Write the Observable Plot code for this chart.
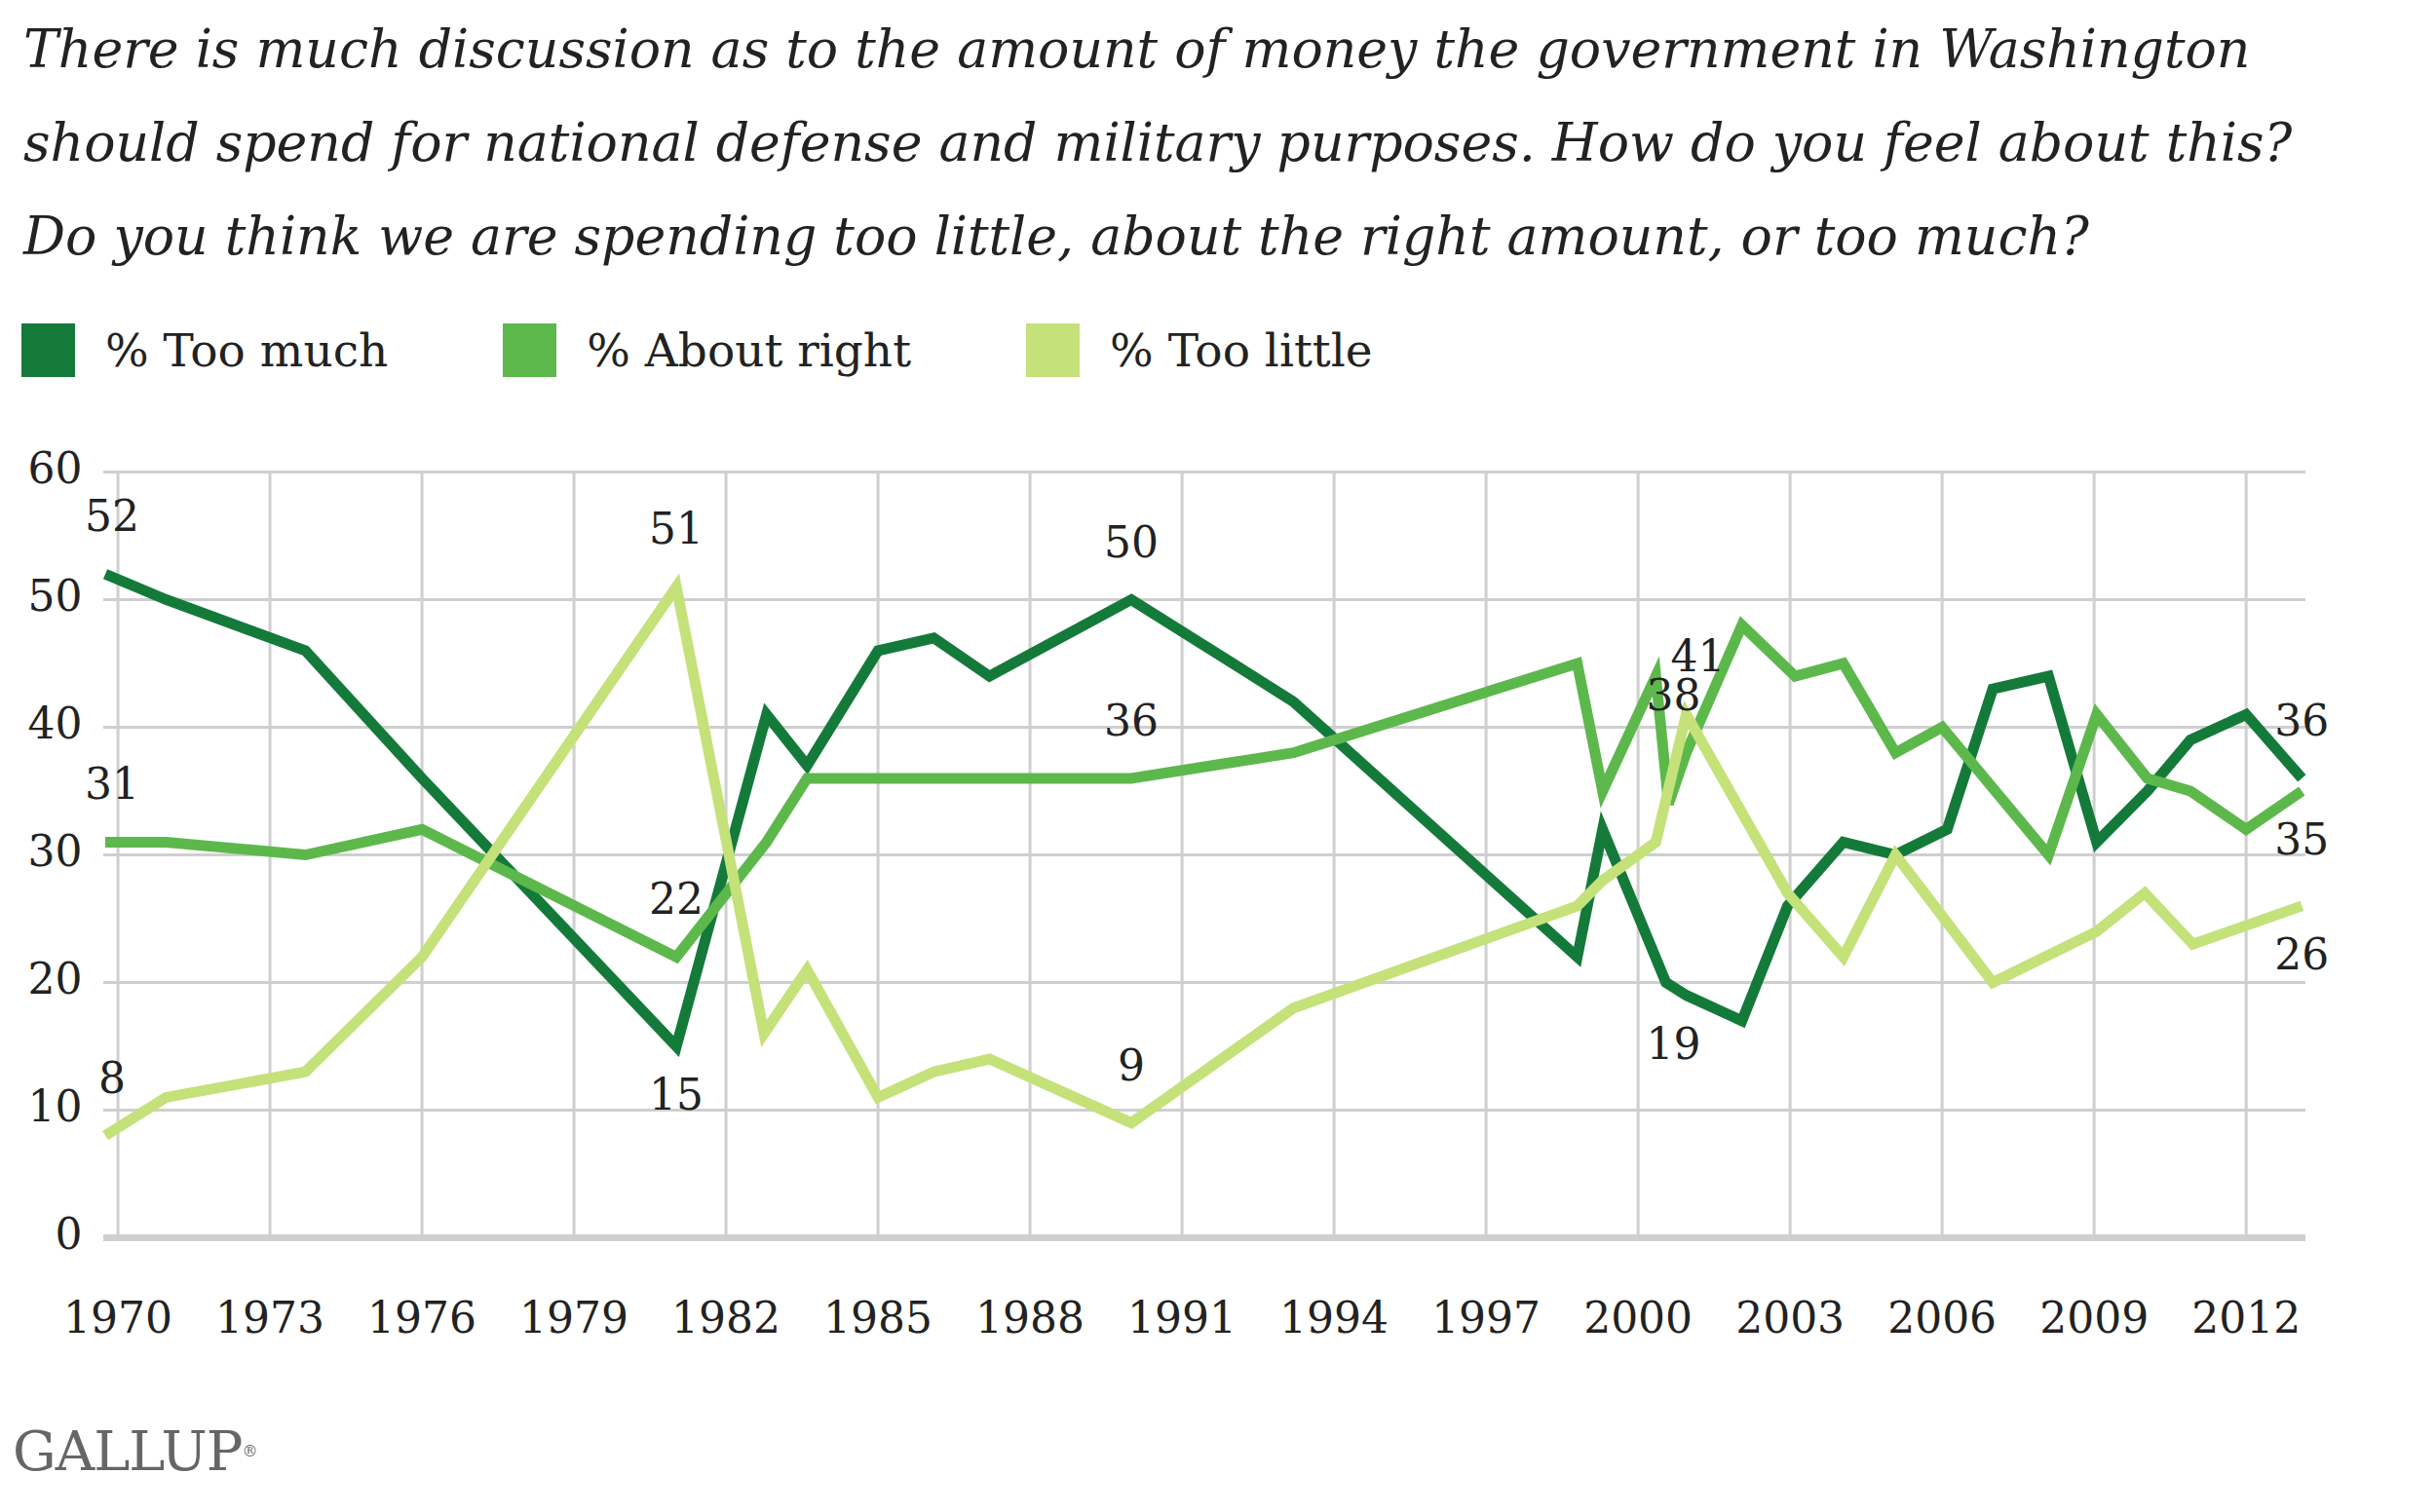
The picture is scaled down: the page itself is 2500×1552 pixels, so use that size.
<!DOCTYPE html>
<html>
<head>
<meta charset="utf-8">
<script src="https://cdn.jsdelivr.net/npm/d3@7"></script>
<script src="https://cdn.jsdelivr.net/npm/@observablehq/plot@0.6"></script>
<style>
  html, body { margin: 0; padding: 0; background: #ffffff; }
  body { width: 2500px; height: 1552px; position: relative; overflow: hidden; font-family: "DejaVu Serif", serif; color: #222; }
  #title { position: absolute; left: 24px; top: 3px; font-style: italic; line-height: 96px; white-space: nowrap; color: #222; }
  #legend { position: absolute; left: 22px; top: 332px; height: 55px; display: flex; align-items: center; }
  .item { display: flex; align-items: center; margin-right: 118px; }
  .sw { width: 55px; height: 55px; margin-right: 31px; }
  .lab { font-size: 47px; line-height: 55px; color: #222; white-space: nowrap; }
  #chart { position: absolute; left: 0; top: 400px; }
  #footer { position: absolute; left: 13px; top: 1462px; font-size: 56px; color: #666; letter-spacing: -1px; line-height: 56px; }
  #footer sup { font-size: 16px; vertical-align: top; }
</style>
</head>
<body>
<div id="title"></div>
<div id="legend"></div>
<div id="chart"></div>
<div id="footer">GALLUP<sup>®</sup></div>
<script>
// ---- Text ----
const titleLines = [
  "There is much discussion as to the amount of money the government in Washington",
  "should spend for national defense and military purposes. How do you feel about this?",
  "Do you think we are spending too little, about the right amount, or too much?"
];

// ---- Series (survey date as fractional year, percent) ----
const seriesNames = ["% Too much", "% About right", "% Too little"];
const seriesColors = ["#147a3a", "#5db84c", "#c5e17a"];

const tooMuchYears = [1969.75, 1970.95, 1973.7, 1976.0, 1981.02, 1982.8, 1983.6, 1985.0, 1986.1, 1987.2, 1990.0, 1993.2, 1998.8, 1999.3, 2000.55, 2000.95, 2002.05, 2002.95, 2004.05, 2005.08, 2006.1, 2007.0, 2008.1, 2009.05, 2010.05, 2010.9, 2012.0, 2013.1];
const tooMuch      = [52, 50, 46, 36, 15, 41, 37, 46, 47, 44, 50, 42, 22, 32, 20, 19, 17, 26, 31, 30, 32, 43, 44, 31, 35, 39, 41, 36];

const aboutRightYears = [1969.75, 1970.95, 1973.7, 1976.0, 1981.02, 1982.8, 1983.6, 1985.0, 1986.1, 1987.2, 1990.0, 1993.2, 1998.8, 1999.3, 2000.35, 2000.6, 2000.95, 2002.05, 2003.1, 2004.05, 2005.08, 2006.0, 2008.1, 2009.05, 2010.05, 2010.9, 2012.0, 2013.1];
const aboutRight      = [31, 31, 30, 32, 22, 31, 36, 36, 36, 36, 36, 38, 45, 35, 44, 34, 38, 48, 44, 45, 38, 40, 30, 41, 36, 35, 32, 35];

const tooLittleYears = [1969.75, 1970.95, 1973.7, 1976.0, 1981.02, 1982.75, 1983.6, 1985.0, 1986.1, 1987.2, 1990.0, 1993.2, 1998.8, 1999.3, 2000.35, 2000.95, 2002.95, 2004.05, 2005.08, 2007.0, 2009.05, 2010.0, 2010.95, 2013.1];
const tooLittle      = [8, 11, 13, 22, 51, 16, 21, 11, 13, 14, 9, 18, 26, 28, 31, 41, 27, 22, 30, 20, 24, 27, 23, 26];

// ---- Axis ticks ----
const xTicks = [1970, 1973, 1976, 1979, 1982, 1985, 1988, 1991, 1994, 1997, 2000, 2003, 2006, 2009, 2012];
const yTicks = [0, 10, 20, 30, 40, 50, 60];

// ---- Labelled points: series, survey date, side ----
const labelSeries = ["% Too much", "% About right", "% Too little", "% Too little", "% About right", "% Too much", "% Too much", "% About right", "% Too little", "% Too little", "% About right", "% Too much", "% Too much", "% About right", "% Too little"];
const labelYears  = [1969.75, 1969.75, 1969.75, 1981.02, 1981.02, 1981.02, 1990.0, 1990.0, 1990.0, 2000.95, 2000.95, 2000.95, 2013.1, 2013.1, 2013.1];
const labelSides  = ["above", "above", "above", "above", "above", "below", "above", "above", "above", "above", "above", "below", "above", "below", "below"];

// ---- Build tables ----
const seriesData = [
  {name: seriesNames[0], years: tooMuchYears, values: tooMuch},
  {name: seriesNames[1], years: aboutRightYears, values: aboutRight},
  {name: seriesNames[2], years: tooLittleYears, values: tooLittle}
];
const rows = seriesData.flatMap(s => s.years.map((yr, i) => ({series: s.name, year: yr, value: s.values[i]})));
const labelRows = labelSeries.map((sn, i) => {
  const s = seriesData.find(d => d.name === sn);
  const idx = s.years.indexOf(labelYears[i]);
  const first = idx === 0;
  const crowded = labelYears[i] > 2000 && labelYears[i] < 2001.5;
  const dx = first ? 7 : crowded ? (sn === "% Too little" ? 12 : -13) : 0;
  const dy = labelSides[i] === "above" ? -58 : 51;
  return {series: sn, year: labelYears[i], value: s.values[idx], dx, dy};
});
// one text mark per distinct offset (dx/dy are constants in Plot)
const offsetGroups = d3.groups(labelRows, d => d.dx + "|" + d.dy);
const labelMarks = offsetGroups.map(([, g]) =>
  Plot.text(g, {x: "year", y: "value", text: d => String(d.value), dx: g[0].dx, dy: g[0].dy, fill: "#222", fontSize: 44})
);

// ---- Title (fit line 1 to its width in the reference) ----
(function () {
  const c = document.createElement("canvas").getContext("2d");
  c.font = 'italic 100px "DejaVu Serif"';
  const w = c.measureText(titleLines[0]).width;
  const size = 100 * 2286 / w;
  const t = document.getElementById("title");
  t.style.fontSize = size.toFixed(2) + "px";
  t.innerHTML = titleLines.map(l => `<div>${l}</div>`).join("");
})();

// ---- Legend ----
document.getElementById("legend").innerHTML = seriesNames.map((n, i) =>
  `<div class="item"><div class="sw" style="background:${seriesColors[i]}"></div><div class="lab">${n}</div></div>`).join("");

// ---- Chart ----
const chart = Plot.plot({
  width: 2500,
  height: 1020,
  marginTop: 84,
  marginBottom: 150,
  marginLeft: 106,
  marginRight: 134,
  style: {fontFamily: '"DejaVu Serif", serif', fontSize: "44px", color: "#222", background: "white", overflow: "visible"},
  x: {type: "linear", domain: [1969.72, 2013.18]},
  y: {domain: [0, 60]},
  color: {domain: seriesNames, range: seriesColors},
  marks: [
    Plot.gridX(xTicks, {stroke: "#cfcfcf", strokeOpacity: 1, strokeWidth: 3}),
    Plot.gridY(yTicks, {stroke: "#cfcfcf", strokeOpacity: 1, strokeWidth: 3}),
    Plot.ruleY([0], {stroke: "#d0d0d0", strokeWidth: 7}),
    Plot.axisX(xTicks, {tickSize: 0, tickPadding: 66, tickFormat: d => String(d), label: null, fontSize: 44, fill: "#222"}),
    Plot.axisY(yTicks, {tickSize: 0, tickPadding: 22, label: null, fontSize: 44, fill: "#222", dy: -3}),
    Plot.line(rows, {x: "year", y: "value", z: "series", stroke: "series", strokeWidth: 11, strokeLinejoin: "miter", strokeLinecap: "butt", strokeMiterlimit: 4}),
    ...labelMarks
  ]
});
document.getElementById("chart").appendChild(chart);
</script>
</body>
</html>
